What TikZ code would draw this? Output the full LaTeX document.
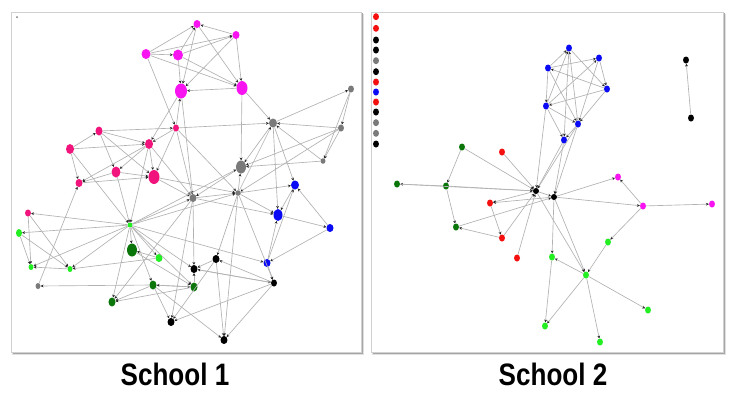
\documentclass[tikz,border=0pt]{standalone}
\usepackage{fontspec}
\newfontfamily\labfont{Liberation Sans}
\usetikzlibrary{shapes.geometric,arrows.meta}
\definecolor{mag}{HTML}{F814F0}
\definecolor{dpink}{HTML}{F0147C}
\definecolor{lgr}{HTML}{22EE22}
\definecolor{dgr}{HTML}{0A760A}
\definecolor{blu}{HTML}{0A0AF5}
\definecolor{gry}{HTML}{7A7A7A}
\definecolor{rd}{HTML}{F51010}
\begin{document}
\begin{tikzpicture}[x=1pt,y=-1pt,
  nd/.style={ellipse,inner sep=0pt,draw=none,minimum width=#1},
  nd/.default=6pt,
  e/.style={draw=black!30,line width=0.65pt,-{Stealth[length=2.8pt,width=2.8pt,color=black!85]}},
  panel/.style={fill=white,draw=black!18,line width=0.6pt},
  shad/.style={fill=black!35,draw=none},
  lab/.style={font=\labfont\bfseries\fontsize{31}{33}\selectfont,xscale=0.84,transform shape}]
\useasboundingbox (0,0) rectangle (733,392);
% panels
\fill[black!12] (12,13.5) rectangle (364,355);
\fill[shad] (12.5,13) rectangle (362.8,354);
\draw[panel] (11,12) rectangle (361,352);
\fill[black!12] (372,13.5) rectangle (726,355);
\fill[shad] (372.5,13) rectangle (724.8,354);
\draw[panel] (371,12) rectangle (723,352);
\node[lab] (t1) at (175,374) {School 1};
\node[lab] (t2) at (553,374) {School 2};
% ---------------- School 1 nodes
\node[nd,fill=gry,minimum width=2pt,minimum height=2pt] (tiny) at (17,17) {};
\node[nd,fill=mag,minimum width=7pt,minimum height=8pt] (M1) at (197,24) {};
\node[nd,fill=mag,minimum width=7pt,minimum height=8pt] (M2) at (236,35) {};
\node[nd,fill=mag,minimum width=9pt,minimum height=10pt] (M3) at (146,54) {};
\node[nd,fill=mag,minimum width=10pt,minimum height=11pt] (M4) at (178,55) {};
\node[nd,fill=mag,minimum width=12pt,minimum height=15pt] (M5) at (181,91) {};
\node[nd,fill=mag,minimum width=11pt,minimum height=14pt] (M6) at (242,88) {};
\node[nd,fill=gry,minimum width=8pt,minimum height=9pt] (G1) at (273,123) {};
\node[nd,fill=gry,minimum width=6pt,minimum height=7pt] (G2) at (351,89) {};
\node[nd,fill=gry,minimum width=6pt,minimum height=7pt] (G3) at (341,128) {};
\node[nd,fill=gry,minimum width=5pt,minimum height=5.5pt] (G4) at (323,161) {};
\node[nd,fill=gry,minimum width=10pt,minimum height=13pt] (G5) at (241,167) {};
\node[nd,fill=gry,minimum width=7pt,minimum height=8pt] (G6) at (193,198) {};
\node[nd,fill=gry,minimum width=5.5pt,minimum height=5.5pt] (G7) at (238,193) {};
\node[nd,fill=gry,minimum width=5pt,minimum height=6pt] (G8) at (38,286) {};
\node[nd,fill=dpink,minimum width=7pt,minimum height=9pt] (P1) at (99,131) {};
\node[nd,fill=dpink,minimum width=6pt,minimum height=7pt] (P2) at (176,128) {};
\node[nd,fill=dpink,minimum width=8pt,minimum height=10pt] (P3) at (70,149) {};
\node[nd,fill=dpink,minimum width=8pt,minimum height=10pt] (P4) at (149,144) {};
\node[nd,fill=dpink,minimum width=9pt,minimum height=11pt] (P5) at (116,172) {};
\node[nd,fill=dpink,minimum width=11pt,minimum height=14pt] (P6) at (154,177) {};
\node[nd,fill=dpink,minimum width=7pt,minimum height=8pt] (P7) at (79,183) {};
\node[nd,fill=dpink,minimum width=6pt,minimum height=7pt] (P8) at (28,213) {};
\node[nd,fill=blu,minimum width=8pt,minimum height=9pt] (B1) at (295,185) {};
\node[nd,fill=blu,minimum width=9pt,minimum height=12pt] (B2) at (278,215) {};
\node[nd,fill=blu,minimum width=7pt,minimum height=8pt] (B3) at (330,228) {};
\node[nd,fill=blu,minimum width=7pt,minimum height=8pt] (B4) at (267,263) {};
\node[nd,fill=lgr,minimum width=5pt,minimum height=5pt] (L1) at (130,225) {};
\node[nd,fill=lgr,minimum width=6pt,minimum height=8pt] (L2) at (19,233) {};
\node[nd,fill=lgr,minimum width=7pt,minimum height=8pt] (L3) at (159,258) {};
\node[nd,fill=lgr,minimum width=5pt,minimum height=6pt] (L4) at (31,267) {};
\node[nd,fill=lgr,minimum width=5pt,minimum height=6pt] (L5) at (70,269) {};
\node[nd,fill=dgr,minimum width=10pt,minimum height=13pt] (D1) at (132,250) {};
\node[nd,fill=dgr,minimum width=7pt,minimum height=9pt] (D2) at (153,285) {};
\node[nd,fill=dgr,minimum width=7pt,minimum height=9pt] (D3) at (194,287) {};
\node[nd,fill=dgr,minimum width=7pt,minimum height=9pt] (D4) at (112,302) {};
\node[nd,fill=black,minimum width=7pt,minimum height=8pt] (K1) at (216,259) {};
\node[nd,fill=black,minimum width=7pt,minimum height=8pt] (K2) at (194,269) {};
\node[nd,fill=black,minimum width=6pt,minimum height=7pt] (K3) at (274,283) {};
\node[nd,fill=black,minimum width=7pt,minimum height=8pt] (K4) at (171,322) {};
\node[nd,fill=black,minimum width=7pt,minimum height=8pt] (K5) at (224,340) {};
% ---------------- School 1 edges
\foreach \a/\b in {M3/M1,M3/M2,M4/M1,M4/M2,M2/M1,M3/M4,M1/M5,M2/M5,M1/M6,M2/M6,M3/M6,M4/M6,M4/M5,M6/M5,M3/P2,
  M5/P4,M5/G6,P2/M5,M6/G5,M6/G1,
  P1/P2,P2/G1,P3/P1,P1/P4,P3/P4,P2/P4,P4/P5,P4/P6,P4/P7,P1/P5,P1/P6,P3/P7,P5/P7,P5/P6,P7/P6,P2/P6,P4/G6,P6/G6,P6/G7,P2/G7,P2/G6,
  P3/L1,P5/L1,P4/L1,G8/P7,
  G1/G2,G3/G1,G4/G1,G1/G5,G1/B2,G1/B1,G2/G3,G2/G4,G3/G4,G3/G5,G4/G5,G3/G7,G7/G5,G5/G6,G6/G7,G7/G1,G7/B1,G7/B2,G6/B2,B1/B2,B2/B3,B3/B1,B4/B2,B3/B4,B4/B1,
  L1/P8,L1/L2,L1/L4,L1/L5,L1/D1,L1/L3,L1/D2,L1/D4,L1/K2,L1/B4,L1/D3,L1/G6,L1/G5,L1/G7,
  P8/L4,P8/L5,L2/L4,L2/L5,L5/L4,L3/L5,D2/G8,G6/K2,G6/D4,G7/K1,G7/K3,G7/K5,K1/K2,K2/K3,K3/K1,K3/K4,K3/K5,K1/K5,
  D2/D3,D3/D2,D2/D4,D3/D4,D2/K4,D2/K5,D1/D3,G6/K4,K1/K4,B4/K3,K3/K2,D3/K2,L3/D1}
  \draw[e] (\a) -- (\b);
% ---------------- School 2 nodes
\foreach \y/\c [count=\i] in {16.7/rd,28.3/rd,40/black,50/black,60.7/gry,71.7/black,82/rd,92/blu,102/rd,112/black,122.7/gry,133.3/gry,144/black}
  \node[nd,fill=\c,minimum width=6pt,minimum height=7pt] (c\i) at (376,\y) {};
\tikzset{s2/.style={nd,minimum width=6pt,minimum height=7pt}}
\node[s2,fill=blu] (b1) at (569,48) {};
\node[s2,fill=blu] (b2) at (599,58) {};
\node[s2,fill=blu] (b3) at (548,68) {};
\node[s2,fill=blu] (b4) at (607,89) {};
\node[s2,fill=blu] (b5) at (546,106) {};
\node[s2,fill=blu] (b6) at (578,124) {};
\node[s2,fill=blu] (b7) at (564,140) {};
\node[s2,fill=black] (k1) at (686,60) {};
\node[s2,fill=black] (k2) at (691,118) {};
\node[s2,fill=dgr] (g1) at (462,147) {};
\node[s2,fill=rd] (r1) at (502,152) {};
\node[s2,fill=mag] (m1) at (618,177) {};
\node[s2,fill=dgr] (g2) at (397,184) {};
\node[s2,fill=dgr] (g3) at (446,186) {};
\node[nd,fill=black,minimum width=6pt,minimum height=6pt] (h1) at (536,191) {};
\node[nd,fill=black,minimum width=6pt,minimum height=6pt] (h2) at (554,197) {};
\node[s2,fill=rd] (r2) at (490,203) {};
\node[s2,fill=mag] (m2) at (643,206) {};
\node[s2,fill=mag] (m3) at (712,204) {};
\node[s2,fill=dgr] (g4) at (456,227) {};
\node[s2,fill=rd] (r3) at (502,238) {};
\node[s2,fill=lgr] (l1) at (608,242) {};
\node[s2,fill=rd] (r4) at (517,258) {};
\node[s2,fill=lgr] (l2) at (552,257) {};
\node[s2,fill=lgr] (l3) at (586,275) {};
\node[s2,fill=lgr] (l4) at (648,310) {};
\node[s2,fill=lgr] (l5) at (545,326) {};
\node[s2,fill=lgr] (l6) at (600,342) {};
% ---------------- School 2 edges
\foreach \a/\b in {b3/b1,b5/b1,b6/b1,b1/b4,b3/b2,b5/b2,b2/b6,b2/b4,b4/b3,b3/b5,b3/b6,b4/b5,b4/b6,b5/b6,b5/b7,b6/b7,b1/b7,
  b5/h1,b7/h1,b6/h2,b7/h2,b6/h1,g1/h1,r1/h1,g1/g3,g3/g2,g3/h1,g3/g4,r3/g4,g4/h2,h1/r2,h2/r2,r2/r3,r3/h1,r4/h1,h2/l2,l3/l2,
  h1/l3,h2/l3,h2/m1,m2/m1,h2/m2,m2/m3,m2/l1,l1/l3,l3/l4,l3/l5,l3/l6,l2/l5,h1/h2,g2/h1,k2/k1}
  \draw[e] (\a) -- (\b);
\end{tikzpicture}
\end{document}
